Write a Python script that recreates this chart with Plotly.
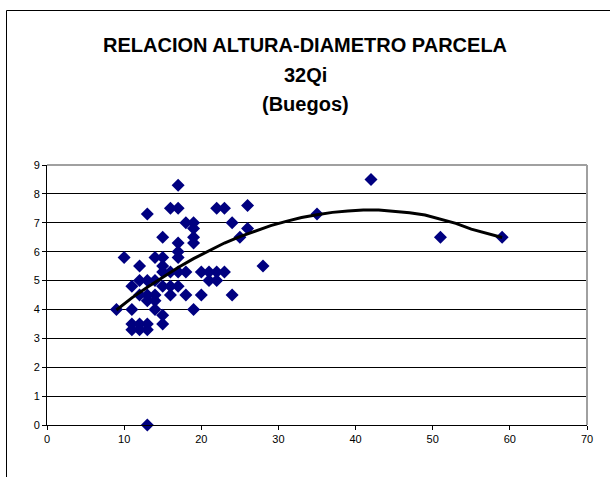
import plotly.graph_objects as go

# Scatter data: diameter (x) vs height (y)
diametro = [9, 10, 11, 11, 11, 11, 12, 12, 12, 12, 12, 13, 13, 13, 13, 13, 13, 13,
            14, 14, 14, 14, 14, 15, 15, 15, 15, 15, 15, 15, 16, 16, 16, 16,
            17, 17, 17, 17, 17, 17, 17, 18, 18, 18, 19, 19, 19, 19, 19,
            20, 20, 21, 21, 22, 22, 22, 23, 23, 24, 24, 25, 26, 26, 28, 35, 42, 51, 59]
altura = [4.0, 5.8, 3.5, 3.3, 4.0, 4.8, 5.5, 5.0, 4.5, 3.5, 3.3, 7.3, 5.0, 4.5, 4.3, 3.5, 3.3, 0.0,
          5.8, 5.0, 4.5, 4.3, 4.0, 6.5, 5.8, 5.5, 5.3, 4.8, 3.8, 3.5, 7.5, 5.3, 4.8, 4.5,
          8.3, 7.5, 6.3, 6.0, 5.8, 5.3, 4.8, 7.0, 5.3, 4.5, 7.0, 6.8, 6.5, 6.3, 4.0,
          5.3, 4.5, 5.3, 5.0, 7.5, 5.3, 5.0, 7.5, 5.3, 7.0, 4.5, 6.5, 7.6, 6.8, 5.5, 7.3, 8.5, 6.5, 6.5]

# Polynomial trend line as drawn in the reference
trend_x = [9, 11, 13, 15, 17, 19, 21, 23, 25, 27, 29, 31, 33, 35, 37, 39, 41, 43, 45, 47, 49, 51, 53, 55, 57, 59]
trend_y = [3.98, 4.40, 4.77, 5.12, 5.45, 5.76, 6.04, 6.30, 6.52, 6.72, 6.90, 7.05, 7.18, 7.28, 7.36,
           7.41, 7.44, 7.44, 7.40, 7.35, 7.27, 7.13, 6.98, 6.78, 6.63, 6.49]

title_lines = ["RELACION ALTURA-DIAMETRO PARCELA", "32Qi", "(Buegos)"]
x_ticks = [0, 10, 20, 30, 40, 50, 60, 70]
y_ticks = [0, 1, 2, 3, 4, 5, 6, 7, 8, 9]

fig = go.Figure()
fig.add_trace(go.Scatter(
    x=diametro, y=altura, mode="markers",
    marker=dict(symbol="diamond", size=10, color="#000080", line=dict(width=0)),
    showlegend=False, cliponaxis=False,
))
fig.add_trace(go.Scatter(
    x=trend_x, y=trend_y, mode="lines",
    line=dict(color="black", width=3), showlegend=False,
))

W, H = 610, 477
L, R, T, B = 47, 23, 165, 52
pw, ph = W - L - R, H - T - B

def px_x(p):
    return (p - L) / pw

def px_y(p):
    return (H - B - p) / ph

font = "Liberation Sans, Arial, sans-serif"
annotations = []
for line, ypix in zip(title_lines, [45, 75, 104]):
    annotations.append(dict(
        text=f"<b>{line}</b>", x=px_x(305), y=px_y(ypix), xref="paper", yref="paper",
        showarrow=False, xanchor="center", yanchor="middle",
        font=dict(family=font, size=20, color="black"),
    ))

shapes = [
    # outer chart frame: left and top edges visible
    dict(type="line", xref="paper", yref="paper",
         x0=px_x(6.5), x1=px_x(610), y0=px_y(10.5), y1=px_y(10.5),
         line=dict(color="black", width=1)),
    dict(type="line", xref="paper", yref="paper",
         x0=px_x(6.5), x1=px_x(6.5), y0=px_y(10.5), y1=px_y(477),
         line=dict(color="black", width=1)),
    # plot area grey border top and right
    dict(type="line", xref="paper", yref="paper", x0=0, x1=1, y0=1, y1=1,
         line=dict(color="#a0a0a0", width=2)),
    dict(type="line", xref="paper", yref="paper", x0=1, x1=1, y0=0, y1=1,
         line=dict(color="#a0a0a0", width=2)),
]

fig.update_layout(
    width=W, height=H,
    margin=dict(l=L, r=R, t=T, b=B),
    paper_bgcolor="white", plot_bgcolor="white",
    annotations=annotations, shapes=shapes,
    font=dict(family=font, size=11, color="black"),
    xaxis=dict(range=[0, 70], tickvals=x_ticks, showgrid=False, zeroline=False,
               showline=True, linecolor="black", linewidth=1,
               ticks="outside", ticklen=4, tickcolor="black",
               tickfont=dict(family=font, size=11, color="black"), fixedrange=True),
    yaxis=dict(range=[0, 9], tickvals=y_ticks, showgrid=True, gridcolor="black", gridwidth=1,
               zeroline=False, showline=True, linecolor="black", linewidth=1,
               ticks="outside", ticklen=4, tickcolor="black",
               tickfont=dict(family=font, size=11, color="black"), fixedrange=True),
)

fig.write_html("out.html", config={"displayModeBar": False},
               post_script="document.body.style.margin='0';document.body.style.overflow='hidden';")
